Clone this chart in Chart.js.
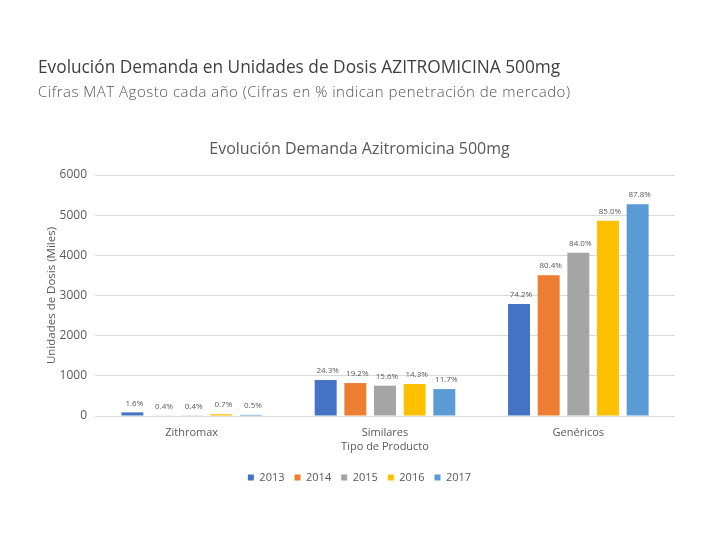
<!DOCTYPE html>
<html>
<head>
<meta charset="utf-8">
<script src="https://cdn.jsdelivr.net/npm/chart.js@4.4.0/dist/chart.umd.min.js"></script>
<style>
  body { margin: 0; background: #fff; }
  #wrap { position: relative; width: 720px; height: 540px; }
  #demandChart { position: absolute; left: 0; top: 0; }
  .hdr { position: absolute; left: 38px; font-family: "Open Sans", sans-serif; white-space: nowrap; }
  #pageTitle { top: 56px; font-size: 17.3px; line-height: 22px; color: #3f3f3f; }
  #pageSub { top: 81px; font-size: 15px; line-height: 20px; color: #555; font-weight: 300; letter-spacing: 0.5px; }
</style>
</head>
<body>
<div id="wrap">
  <canvas id="demandChart" width="720" height="540"></canvas>
  <div class="hdr" id="pageTitle">Evolución Demanda en Unidades de Dosis AZITROMICINA 500mg</div>
  <div class="hdr" id="pageSub">Cifras MAT Agosto cada año (Cifras en % indican penetración de mercado)</div>
</div>
<script>
// Datos (miles de unidades, MAT agosto)
const categories = ['Zithromax', 'Similares', 'Genéricos'];
const years = ['2013', '2014', '2015', '2016', '2017'];

const units2013 = [90, 895, 2786];
const units2014 = [15, 820, 3507];
const units2015 = [18, 755, 4062];
const units2016 = [45, 795, 4858];
const units2017 = [28, 670, 5274];

// penetracion de mercado
const pct2013 = ['1.6%', '24.3%', '74.2%'];
const pct2014 = ['0.4%', '19.2%', '80.4%'];
const pct2015 = ['0.4%', '15.6%', '84.0%'];
const pct2016 = ['0.7%', '14.3%', '85.0%'];
const pct2017 = ['0.5%', '11.7%', '87.8%'];

const yTicks = [0, 1000, 2000, 3000, 4000, 5000, 6000];

const colors = ['#4472C4', '#ED7D31', '#A5A5A5', '#FFC000', '#5B9BD5'];
const allUnits = [units2013, units2014, units2015, units2016, units2017];
const allPct = [pct2013, pct2014, pct2015, pct2016, pct2017];

const FONT = '"Open Sans", sans-serif';
const GREY = '#595959';

// draws the % label above every bar
const pctLabels = {
  id: 'pctLabels',
  afterDatasetsDraw(chart) {
    const ctx = chart.ctx;
    ctx.save();
    ctx.font = '8px ' + FONT;
    ctx.fillStyle = GREY;
    ctx.textAlign = 'center';
    ctx.textBaseline = 'middle';
    chart.data.datasets.forEach((ds, i) => {
      chart.getDatasetMeta(i).data.forEach((bar, j) => {
        ctx.fillText(ds.pct[j], bar.x + 2, bar.y - 9);
      });
    });
    ctx.restore();
  }
};

const datasets = years.map((yr, i) => ({
  label: yr,
  data: allUnits[i],
  pct: allPct[i],
  backgroundColor: colors[i],
  borderWidth: 0,
  categoryPercentage: 0.767,
  barPercentage: 0.74
}));

const ctx = document.getElementById('demandChart');
new Chart(ctx, {
  type: 'bar',
  data: { labels: categories, datasets: datasets },
  options: {
    responsive: false,
    animation: false,
    layout: { padding: { left: 44, right: 45, top: 130, bottom: 47 } },
    scales: {
      x: {
        grid: { display: false },
        border: { display: false },
        ticks: { color: GREY, font: { family: FONT, size: 11 }, padding: 2 },
        title: {
          display: true,
          text: 'Tipo de Producto',
          color: GREY,
          font: { family: FONT, size: 11 },
          padding: { top: 0, bottom: 8.5 }
        },
        afterFit: (scale) => { scale.height = 46; }
      },
      y: {
        min: 0,
        max: 6000,
        afterBuildTicks: (scale) => { scale.ticks = yTicks.map(v => ({ value: v })); },
        grid: { color: '#d9d9d9', drawTicks: false },
        border: { display: false },
        ticks: {
          color: GREY,
          font: { family: FONT, size: 12 },
          padding: 8,
          callback: (v) => String(v)
        },
        title: {
          display: true,
          text: 'Unidades de Dosis (Miles)',
          color: GREY,
          font: { family: FONT, size: 11.5 },
          padding: { top: 1, bottom: 0 }
        },
        afterFit: (scale) => { scale.width = 51; }
      }
    },
    plugins: {
      title: {
        display: true,
        text: 'Evolución Demanda Azitromicina 500mg',
        color: GREY,
        font: { family: FONT, size: 16, weight: 'normal' },
        padding: { top: 10, bottom: 15.8 }
      },
      legend: {
        position: 'bottom',
        labels: {
          color: GREY,
          font: { family: FONT, size: 11 },
          boxWidth: 6,
          boxHeight: 6,
          padding: 10
        }
      },
      tooltip: { enabled: false }
    }
  },
  plugins: [pctLabels]
});
</script>
</body>
</html>
